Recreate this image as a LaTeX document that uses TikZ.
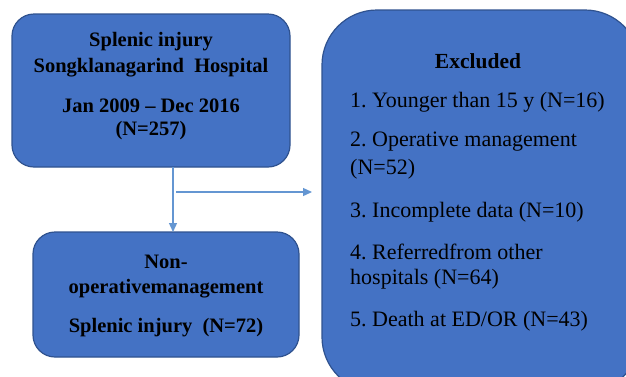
\documentclass[tikz,border=0pt]{standalone}
\usepackage{fontspec}
\setmainfont{Liberation Serif}
\usetikzlibrary{arrows.meta}
\definecolor{boxfill}{RGB}{68,114,196}
\definecolor{boxline}{RGB}{47,82,143}
\definecolor{arrowc}{RGB}{100,150,210}
\frenchspacing
\begin{document}
\begin{tikzpicture}[x=1pt,y=-1pt,
  boxstyle/.style={draw=boxline,line width=1.2pt,fill=boxfill},
  boldtxt/.style={font=\fontsize{20.5}{24}\selectfont\bfseries,inner sep=0pt,text=black},
  headtxt/.style={font=\fontsize{21.5}{25}\selectfont\bfseries,inner sep=0pt,text=black},
  itemtxt/.style={font=\fontsize{22}{26}\selectfont,inner sep=0pt,anchor=west,text=black},
  conn/.style={draw=arrowc,line width=1.3pt,-{Triangle[length=9pt,width=8pt]}}]
\useasboundingbox (0,0) rectangle (626,376);
\begin{scope}
\clip (0,0) rectangle (626,376);
\draw[boxstyle,rounded corners=22pt] (12,14) rectangle (290,167);
\draw[boxstyle,rounded corners=22pt] (33,232) rectangle (299,357);
\draw[boxstyle,rounded corners=55pt] (322,10) rectangle (640,392);
\end{scope}
\coordinate (b1s) at (173,167);
\coordinate (b2n) at (173,232);
\coordinate (hs) at (176,192);
\coordinate (he) at (312,192);
\node[boldtxt] (t1a) at (151,42) {Splenic injury};
\node[boldtxt] (t1b) at (151,68) {Songklanagarind\ \ Hospital};
\node[boldtxt] (t1c) at (151,106) {Jan 2009 -- Dec 2016};
\node[boldtxt] (t1d) at (151,131) {(N=257)};
\node[boldtxt] (t2a) at (166,262) {Non-};
\node[boldtxt] (t2b) at (166,289) {operativemanagement};
\node[boldtxt] (t2c) at (166,328) {Splenic injury\ \ (N=72)};
\node[headtxt] (t3h) at (478,61) {Excluded};
\node[itemtxt] (i1) at (350,102) {1. Younger than 15 y (N=16)};
\node[itemtxt] (i2) at (350,142) {2. Operative management};
\node[itemtxt] (i2b) at (350,169) {(N=52)};
\node[itemtxt] (i3) at (350,212) {3. Incomplete data (N=10)};
\node[itemtxt] (i4) at (350,252) {4. Referredfrom other};
\node[itemtxt] (i4b) at (350,279) {hospitals (N=64)};
\node[itemtxt] (i5) at (350,321) {5. Death at ED/OR (N=43)};
\draw[conn] (b1s) -- (b2n);
\draw[conn] (hs) -- (he);
\end{tikzpicture}
\end{document}
